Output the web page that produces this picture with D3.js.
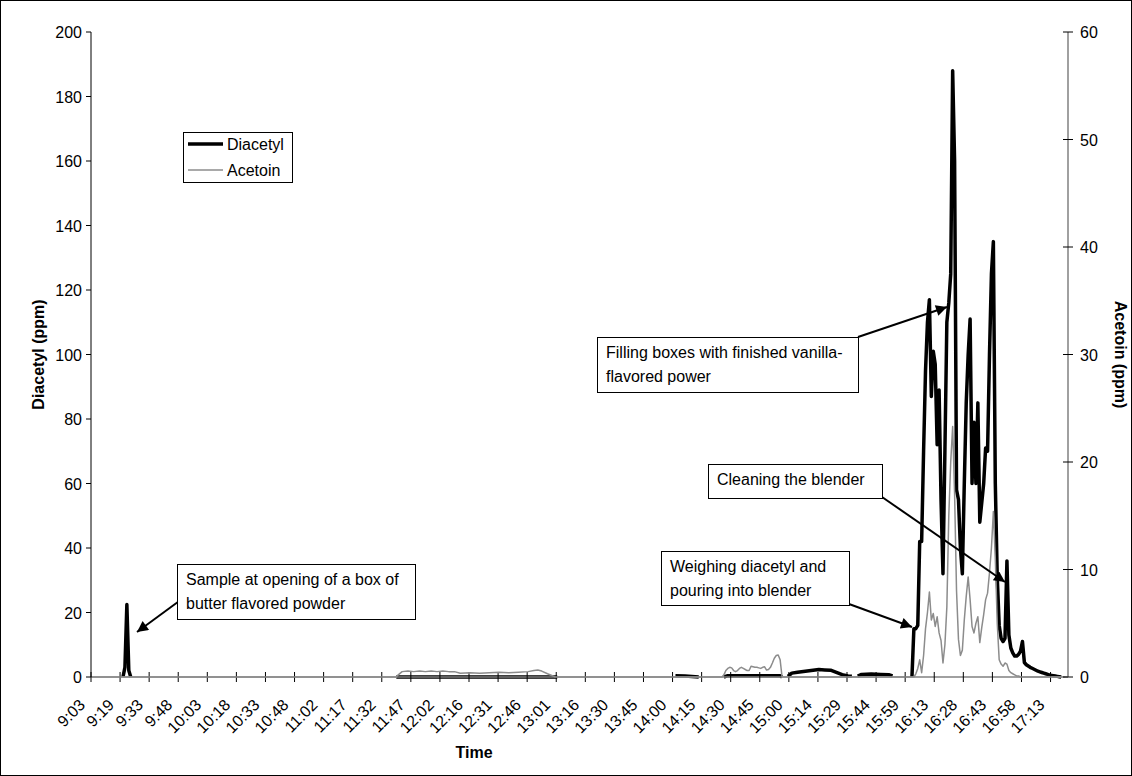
<!DOCTYPE html>
<html>
<head>
<meta charset="utf-8">
<script src="https://cdn.jsdelivr.net/npm/d3@7"></script>
<style>
  html, body { margin: 0; padding: 0; background: #fff; }
  svg { display: block; font-family: "Liberation Sans", Arial, sans-serif; }
</style>
</head>
<body>
<svg id="chart" width="1132" height="776"></svg>
<script>
// Time labels, one every 15 samples
const timeLabels = ["9:03","9:19","9:33","9:48","10:03","10:18","10:33","10:48","11:02","11:17",
  "11:32","11:47","12:02","12:16","12:31","12:46","13:01","13:16","13:30","13:45","14:00","14:15",
  "14:30","14:45","15:00","15:14","15:29","15:44","15:59","16:13","16:28","16:43","16:58","17:13"];
const samplesPerLabel = 15;
const sampleCount = 504;

const diacetylTicks = [0,20,40,60,80,100,120,140,160,180,200];
const acetoinTicks = [0,10,20,30,40,50,60];

// Diacetyl (ppm) as [sample, value]; null marks a gap in the record
const diacetylQuiet = [
  [16,0],[17,3],[18,22.5],[19,2],[20,0],[21,null],
  [157,0],[240,0],[241,null],
  [301,0.4],[306,0.3],[313,0],[314,null],
  [326,0],[328,0.4],[355,0.4],[356,0],[357,null],
  [359,0.2],[361,1.2],[364,1.5],[368,1.8],[372,2.1],[375,2.3],[378,2.2],[381,2.1],
  [384,1.4],[387,0.7],[390,0.3],[392,0.2],[393,null],
  [395,0.3],[397,0.8],[402,0.9],[407,0.8],[411,0.7],[413,0.3],[414,null]
];
// Diacetyl (ppm), one value per sample from sample 423
const diacetylBurstStart = 423;
const diacetylBurst = [0,15,15,16,42,42,70,95,110,117,87,101,97,72,89,55,32,70,110,116,
  125,188,160,58,55,40,32,60,85,100,111,60,79,60,85,48,54,60,71,70,100,125,135,60,31,16,
  12,11,12,36,13,9,7.5,6.5,6.5,7,8,11,4.5,3.8,3.4,3.0,2.7,2.4,2.1,1.8,1.6,1.4,1.2,1.0,
  0.8,0.6,0.5,0.4,0.3,0.2,0.1,0];

// Acetoin (ppm) as [sample, value]
const acetoinQuiet = [
  [0,0],[157,0],[158,0.2],[160,0.5],[163,0.55],[166,0.5],[169,0.55],[172,0.5],[175,0.55],
  [178,0.5],[181,0.55],[184,0.5],[187,0.5],[190,0.35],[195,0.4],[200,0.35],[205,0.4],
  [210,0.45],[215,0.4],[220,0.45],[225,0.5],[228,0.6],[230,0.65],[232,0.55],[235,0.3],
  [239,0],[325,0],[326,0.2],[327,0.6],[328,0.8],[329,0.9],[330,0.85],[331,0.6],[332,0.5],
  [333,0.6],[334,0.8],[335,0.9],[336,0.8],[337,0.7],[338,0.6],[339,0.6],[340,1.0],
  [341,0.95],[342,0.9],[343,0.9],[344,0.85],[345,0.8],[346,0.9],[347,0.95],[348,0.65],
  [349,0.7],[350,0.9],[351,1.3],[352,1.75],[353,2.0],[354,2.05],[355,1.6],[356,0],[420,0]
];
// Acetoin (ppm), one value per sample from sample 421
const acetoinBurstStart = 421;
const acetoinBurst = [0,0,0,0,0.3,0.8,1.6,0.4,2.0,4.5,6,7.9,5.3,5.9,4.7,5.6,4.1,3.4,1.3,3.0,
  6.5,15,20,23.3,17,8,3.5,2.0,2.5,5.3,7.5,9.3,7.2,4.7,4.1,5.0,5.6,3.2,4.6,5.8,7.2,7.8,9.7,
  12,15.4,11,5,1.6,1.2,1.0,1.3,1.2,0.6,0.4,0.3,0.2,0.1,0.1,0];
const acetoinTail = [[480,0],[502,0]];

// Callout notes: text lines, box and arrow
const notes = [
  { lines: ["Sample at opening of a box of", "butter flavored powder"], box: [177,564,238,55], arrow: [186,596,137,632] },
  { lines: ["Filling boxes with finished vanilla-", "flavored power"], box: [597,337,261,55], arrow: [858,337,947,307] },
  { lines: ["Cleaning the blender"], box: [708,464,174,34], arrow: [882,497,1005,582] },
  { lines: ["Weighing diacetyl and", "pouring into blender"], box: [661,551,188,54], arrow: [849,604,912,627] }
];

const svg = d3.select("#chart");
const W = 1132, H = 776;
const plot = { left: 91, right: 1068, top: 32, bottom: 677 };

const x = d3.scaleLinear().domain([0, sampleCount]).range([plot.left, plot.right]);
const yL = d3.scaleLinear().domain([0, 200]).range([plot.bottom, plot.top]);
const yR = d3.scaleLinear().domain([0, 60]).range([plot.bottom, plot.top]);

// outer frame
svg.append("rect").attr("x", 0.5).attr("y", 0.5).attr("width", W - 1).attr("height", H - 1)
  .attr("fill", "#fff").attr("stroke", "#000").attr("stroke-width", 1);

// assemble series
const diacetylSeries = diacetylQuiet.concat([[diacetylBurstStart - 1, null]],
  diacetylBurst.map((v, i) => [diacetylBurstStart + i, v]));
const acetoinSeries = acetoinQuiet.concat(
  acetoinBurst.map((v, i) => [acetoinBurstStart + i, v]), acetoinTail);

const lineL = d3.line().defined(d => d[1] != null).x(d => x(d[0] + 0.5)).y(d => yL(d[1]));
const lineR = d3.line().defined(d => d[1] != null).x(d => x(d[0] + 0.5)).y(d => yR(d[1]));

svg.append("path").datum(diacetylSeries).attr("d", lineL)
  .attr("fill", "none").attr("stroke", "#000").attr("stroke-width", 3.5).attr("stroke-linejoin", "round");

// X axis (crossing ticks)
const xTicks = timeLabels.map((t, i) => i * samplesPerLabel);
const xAxis = svg.append("g");
xAxis.append("line").attr("x1", plot.left).attr("x2", plot.right)
  .attr("y1", plot.bottom).attr("y2", plot.bottom).attr("stroke", "#808080").attr("stroke-width", 1.5);
xAxis.selectAll("line.tick").data(xTicks).join("line").attr("class", "tick")
  .attr("x1", d => x(d)).attr("x2", d => x(d)).attr("y1", plot.bottom - 5).attr("y2", plot.bottom + 5)
  .attr("stroke", "#000").attr("stroke-width", 1);
xAxis.selectAll("text").data(timeLabels).join("text")
  .attr("transform", (d, i) => `translate(${x(xTicks[i]) - 5},${plot.bottom + 29}) rotate(-45)`)
  .attr("text-anchor", "end").attr("font-size", 16).attr("fill", "#000").text(d => d);

svg.append("path").datum(acetoinSeries).attr("d", lineR)
  .attr("fill", "none").attr("stroke", "#8c8c8c").attr("stroke-width", 1.5).attr("stroke-linejoin", "round");

// left axis
const left = svg.append("g");
left.append("line").attr("x1", plot.left).attr("x2", plot.left).attr("y1", plot.top).attr("y2", plot.bottom)
  .attr("stroke", "#000").attr("stroke-width", 1);
left.selectAll("line.tick").data(diacetylTicks).join("line").attr("class", "tick")
  .attr("x1", plot.left - 5).attr("x2", plot.left).attr("y1", d => yL(d)).attr("y2", d => yL(d))
  .attr("stroke", "#000");
left.selectAll("text").data(diacetylTicks).join("text")
  .attr("x", plot.left - 9).attr("y", d => yL(d) + 6).attr("text-anchor", "end")
  .attr("font-size", 16).text(d => d);

// right axis
const right = svg.append("g");
right.append("line").attr("x1", plot.right).attr("x2", plot.right).attr("y1", plot.top).attr("y2", plot.bottom)
  .attr("stroke", "#808080").attr("stroke-width", 1.5);
right.selectAll("line.tick").data(acetoinTicks).join("line").attr("class", "tick")
  .attr("x1", plot.right - 5).attr("x2", plot.right + 5).attr("y1", d => yR(d)).attr("y2", d => yR(d))
  .attr("stroke", "#000");
right.selectAll("text").data(acetoinTicks).join("text")
  .attr("x", plot.right + 12).attr("y", d => yR(d) + 6).attr("text-anchor", "start")
  .attr("font-size", 16).text(d => d);

// axis titles
svg.append("text").attr("transform", `translate(44,${(plot.top + plot.bottom) / 2}) rotate(-90)`)
  .attr("text-anchor", "middle").attr("font-size", 16).attr("font-weight", "bold").text("Diacetyl (ppm)");
svg.append("text").attr("transform", `translate(1115,${(plot.top + plot.bottom) / 2}) rotate(90)`)
  .attr("text-anchor", "middle").attr("font-size", 16).attr("font-weight", "bold").text("Acetoin (ppm)");
svg.append("text").attr("x", 474).attr("y", 758).attr("text-anchor", "middle")
  .attr("font-size", 16).attr("font-weight", "bold").text("Time");

// legend
const lg = svg.append("g");
lg.append("rect").attr("x", 183.5).attr("y", 132.5).attr("width", 109).attr("height", 50)
  .attr("fill", "#fff").attr("stroke", "#000");
lg.append("line").attr("x1", 188).attr("x2", 223).attr("y1", 144).attr("y2", 144)
  .attr("stroke", "#000").attr("stroke-width", 3.5);
lg.append("line").attr("x1", 188).attr("x2", 223).attr("y1", 170).attr("y2", 170)
  .attr("stroke", "#8c8c8c").attr("stroke-width", 1.5);
lg.append("text").attr("x", 227).attr("y", 150).attr("font-size", 16).text("Diacetyl");
lg.append("text").attr("x", 227).attr("y", 176).attr("font-size", 16).text("Acetoin");

// arrowhead
svg.append("defs").append("marker").attr("id", "head")
  .attr("viewBox", "0 0 10 10").attr("refX", 10).attr("refY", 5)
  .attr("markerWidth", 7).attr("markerHeight", 5.5).attr("markerUnits", "strokeWidth")
  .attr("orient", "auto")
  .append("path").attr("d", "M0,0 L10,5 L0,10 Z").attr("fill", "#000");

// callouts
notes.forEach(n => {
  const [bx, by, bw, bh] = n.box;
  const g = svg.append("g");
  g.append("line").attr("x1", n.arrow[0]).attr("y1", n.arrow[1]).attr("x2", n.arrow[2]).attr("y2", n.arrow[3])
    .attr("stroke", "#000").attr("stroke-width", 2).attr("marker-end", "url(#head)");
  g.append("rect").attr("x", bx + 0.5).attr("y", by + 0.5).attr("width", bw).attr("height", bh)
    .attr("fill", "#fff").attr("stroke", "#000");
  n.lines.forEach((t, k) => {
    g.append("text").attr("x", bx + 9).attr("y", by + 21 + k * 24).attr("font-size", 16).text(t);
  });
});
</script>
</body>
</html>
